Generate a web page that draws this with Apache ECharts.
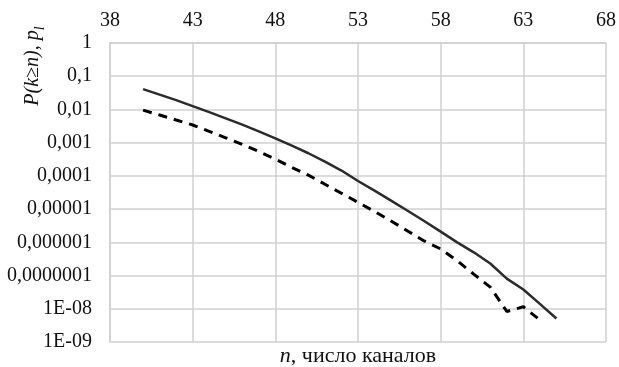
<!DOCTYPE html>
<html><head><meta charset="utf-8">
<script src="https://cdn.jsdelivr.net/npm/echarts@6/dist/echarts.min.js"></script>
<style>html,body{margin:0;padding:0;background:#fff}#c{width:619px;height:367px}</style>
</head><body><div id="c"></div>
<script>
var channels = [40,41,42,43,44,45,46,47,48,49,50,51,52,53,54,55,56,57,58,59,60,61,62,63,64,65];
var probSolid = [4.1e-2,2.8e-2,1.9e-2,1.26e-2,8.3e-3,5.4e-3,3.5e-3,2.2e-3,1.35e-3,8.1e-4,4.8e-4,2.7e-4,1.45e-4,7.0e-5,3.6e-5,1.8e-5,8.9e-6,4.4e-6,2.1e-6,1.0e-6,5.0e-7,2.3e-7,8.1e-8,3.8e-8,1.4e-8,5.1e-9];
var probDashed = [9.5e-3,6.8e-3,4.8e-3,3.4e-3,2.2e-3,1.4e-3,8.9e-4,5.4e-4,3.2e-4,1.8e-4,1.05e-4,5.6e-5,3.0e-5,1.6e-5,8.5e-6,4.4e-6,2.2e-6,1.1e-6,6.3e-7,2.8e-7,1.1e-7,4.5e-8,8.3e-9,1.15e-8,4.6e-9];
var yTickLabels = ['1','0,1','0,01','0,001','0,0001','0,00001','0,000001','0,0000001','1E-08','1E-09'];
var xTickValues = [38,43,48,53,58,63,68];

function pairs(xs, ys){ var out=[]; for(var i=0;i<ys.length;i++){ out.push([xs[i], ys[i]]); } return out; }

var font = '"Liberation Serif","Times New Roman",serif';
var gridColor = '#d0d0d0';
var chart = echarts.init(document.getElementById('c'));
chart.setOption({
  animation:false,
  backgroundColor:'#fff',
  grid:{left:110,right:10,top:43,bottom:25,containLabel:false},
  xAxis:{type:'value',position:'top',min:38,max:68,interval:5,
    axisLine:{show:true,lineStyle:{color:gridColor,width:1.5}},
    axisTick:{show:false},
    axisLabel:{fontFamily:font,fontSize:20,color:'#111',margin:12,
      formatter:function(v){return xTickValues.indexOf(v)>=0?String(v):'';}},
    splitLine:{show:true,lineStyle:{color:gridColor,width:1.5}}},
  yAxis:{type:'log',logBase:10,min:1e-9,max:1,interval:1,
    axisLine:{show:true,lineStyle:{color:gridColor,width:1.5}},
    axisTick:{show:false},
    axisLabel:{fontFamily:font,fontSize:20,color:'#111',margin:18,
      formatter:function(v){var k=Math.round(-Math.log10(v));return yTickLabels[k]||'';}},
    splitLine:{show:true,lineStyle:{color:gridColor,width:1.5}}},
  series:[
    {type:'line',data:pairs(channels,probSolid),showSymbol:false,smooth:false,
      lineStyle:{color:'#2b2b2b',width:2.5,type:'solid'}},
    {type:'line',data:pairs(channels,probDashed),showSymbol:false,smooth:false,
      lineStyle:{color:'#000',width:3,type:[9,7]}}
  ],
  graphic:[
    {type:'text',x:31,y:66,rotation:Math.PI/2,
      style:{text:'{i|P(k≥n), p}{s|l}',textAlign:'center',textVerticalAlign:'middle',
        rich:{i:{fontFamily:font,fontStyle:'italic',fontSize:20,fill:'#111',lineHeight:24,verticalAlign:'bottom'},
              s:{fontFamily:font,fontStyle:'italic',fontSize:14,fill:'#111',lineHeight:24,verticalAlign:'bottom',padding:[0,0,-4,0]}}}},
    {type:'text',x:358,y:356,
      style:{text:'{i|n}{r|, число каналов}',textAlign:'center',textVerticalAlign:'middle',
        rich:{i:{fontFamily:font,fontStyle:'italic',fontSize:22,fill:'#111'},
              r:{fontFamily:font,fontSize:22,fill:'#111'}}}}
  ]
});
</script></body></html>
